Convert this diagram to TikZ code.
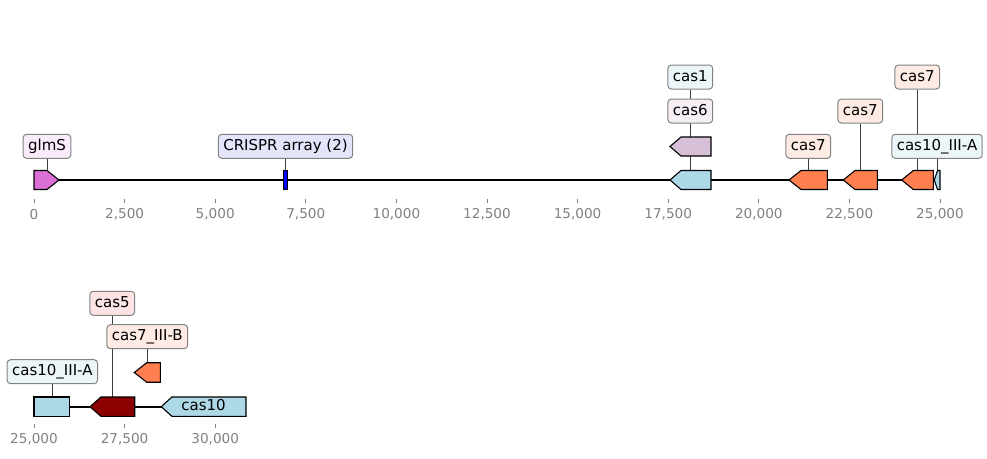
\documentclass[tikz,border=0pt]{standalone}
\usepackage{fontspec}
\setmainfont{DejaVu Sans}
\usetikzlibrary{backgrounds}
\definecolor{flblue}{RGB}{173,216,230}
\definecolor{fthistle}{RGB}{216,191,216}
\definecolor{fcoral}{RGB}{255,127,80}
\definecolor{fdarkred}{RGB}{139,0,0}
\definecolor{forchid}{RGB}{218,112,214}
\definecolor{fblue}{RGB}{0,0,255}
\definecolor{bblue}{RGB}{236,246,249}
\definecolor{bthistle}{RGB}{245,238,245}
\definecolor{bcoral}{RGB}{253,235,228}
\definecolor{bred}{RGB}{252,228,228}
\definecolor{borchid}{RGB}{250,235,250}
\definecolor{bcrispr}{RGB}{228,228,250}
\definecolor{tickgray}{RGB}{128,128,128}
\definecolor{boxedge}{RGB}{130,130,130}
\definecolor{leader}{RGB}{60,60,60}
\tikzset{
  lab/.style={draw=boxedge, line width=1pt, rounded corners=3.5pt, inner xsep=5pt, inner ysep=0pt,
    minimum height=24pt, font=\fontsize{15}{18}\selectfont, text height=11pt, text depth=3pt},
  feat/.style={draw=black, line width=1.1pt, line join=miter},
  leadline/.style={draw=leader, line width=0.8pt},
  baseline/.style={draw=black, line width=2pt},
  tickmark/.style={draw=tickgray, line width=0.8pt},
  ticklab/.style={text=tickgray, font=\fontsize{13.6}{16}\selectfont, inner sep=0pt},
}
\begin{document}
\begin{tikzpicture}[x=1pt,y=-1pt]
\useasboundingbox (0,0) rectangle (987,458);

% ---------- top row ----------
\coordinate (top0) at (34,180);
\coordinate (top1) at (940,180);
% labels
\node[lab, fill=borchid] (l-glmS) at (47,146.3) {glmS};
\node[lab, fill=bcrispr] (l-crispr) at (285.5,146.3) {CRISPR array (2)};
\node[lab, fill=bblue] (l-cas1) at (690.3,77) {cas1};
\node[lab, fill=bthistle] (l-cas6) at (690.3,111) {cas6};
\node[lab, fill=bcoral] (l-cas7a) at (808.3,146.3) {cas7};
\node[lab, fill=bcoral] (l-cas7b) at (860.3,111) {cas7};
\node[lab, fill=bcoral] (l-cas7c) at (917.3,77) {cas7};
\node[lab, fill=bblue] (l-cas10a) at (937,146.3) {cas10\_III-A};

\coordinate (f-glmS) at (47,170.5);
\coordinate (f-crispr) at (285.5,170.5);
\coordinate (f-cas1) at (690.3,170.5);
\coordinate (f-cas6) at (690.3,137);
\coordinate (f-cas7a) at (808.3,170.5);
\coordinate (f-cas7b) at (860.3,170.5);
\coordinate (f-cas7c) at (917.3,170.5);
\coordinate (f-cas10a) at (937.5,170.5);

% features
\draw[feat, fill=forchid] (34,170.5) -- (47,170.5) -- (59,180) -- (47,189.5) -- (34,189.5) -- cycle;
\draw[feat, fill=fblue] (283.3,170.5) rectangle (287.3,189.5);
\draw[feat, fill=flblue] (670,180) -- (681,170.5) -- (711,170.5) -- (711,189.5) -- (681,189.5) -- cycle;
\draw[feat, fill=fthistle] (670,146.5) -- (681,137) -- (711,137) -- (711,156) -- (681,156) -- cycle;
\draw[feat, fill=fcoral] (789,180) -- (801,170.5) -- (827.3,170.5) -- (827.3,189.5) -- (801,189.5) -- cycle;
\draw[feat, fill=fcoral] (843.3,180) -- (855,170.5) -- (877.3,170.5) -- (877.3,189.5) -- (855,189.5) -- cycle;
\draw[feat, fill=fcoral] (901.7,180) -- (913.3,170.5) -- (933.3,170.5) -- (933.3,189.5) -- (913.3,189.5) -- cycle;
\draw[feat, fill=flblue] (934.3,180) -- (937.5,170.5) -- (940,170.5) -- (940,189.5) -- (937.5,189.5) -- cycle;

% ticks
\foreach \i/\t in {0/0,1/{2,500},2/{5,000},3/{7,500},4/{10,000},5/{12,500},6/{15,000},7/{17,500},8/{20,000},9/{22,500},10/{25,000}}{
  \draw[tickmark] ({34+90.6*\i},199) -- ({34+90.6*\i},203);
  \node[ticklab] at ({34+90.6*\i},214.5) {\t};
}

% ---------- bottom row ----------
\coordinate (bot0) at (34,406.7);
\coordinate (bot1) at (246,406.7);
\node[lab, fill=bblue] (l-cas10b) at (52.3,371.7) {cas10\_III-A};
\node[lab, fill=bred] (l-cas5) at (112.3,303.3) {cas5};
\node[lab, fill=bcoral] (l-cas7B) at (147.3,336.7) {cas7\_III-B};

\coordinate (f-cas10b) at (52.3,397);
\coordinate (f-cas5) at (112.3,397);
\coordinate (f-cas7B) at (147.3,362.7);

\draw[feat, fill=flblue] (34,397) rectangle (69.7,416.4);
\draw[feat, fill=fdarkred] (90,406.7) -- (101,397) -- (134.7,397) -- (134.7,416.4) -- (101,416.4) -- cycle;
\draw[feat, fill=fcoral] (134.3,372.5) -- (146.7,362.7) -- (160.3,362.7) -- (160.3,382.2) -- (146.7,382.2) -- cycle;
\draw[feat, fill=flblue] (161.3,406.7) -- (172,397) -- (246,397) -- (246,416.4) -- (172,416.4) -- cycle;
\node[font=\fontsize{15}{18}\selectfont, inner sep=0pt, text height=11pt, text depth=3pt] (t-cas10) at (203.5,406.7) {cas10};

\foreach \i/\t in {0/{25,000},1/{27,500},2/{30,000}}{
  \draw[tickmark] ({34+90.6*\i},424) -- ({34+90.6*\i},428);
  \node[ticklab] at ({34+90.6*\i},439.5) {\t};
}

% ---------- background: baselines and leader lines ----------
\begin{pgfonlayer}{background}
\draw[baseline] (top0) -- (top1);
\draw[baseline] (bot0) -- (bot1);
\draw[leadline] (l-glmS) -- (f-glmS);
\draw[leadline] (l-crispr) -- (f-crispr);
\draw[leadline] (l-cas1) -- (f-cas1);
\draw[leadline] (l-cas6) -- (f-cas6);
\draw[leadline] (l-cas7a) -- (f-cas7a);
\draw[leadline] (l-cas7b) -- (f-cas7b);
\draw[leadline] (l-cas7c) -- (f-cas7c);
\draw[leadline] (l-cas10a.center -| f-cas10a) -- (f-cas10a);
\draw[leadline] (l-cas10b) -- (f-cas10b);
\draw[leadline] (l-cas5) -- (f-cas5);
\draw[leadline] (l-cas7B) -- (f-cas7B);
\end{pgfonlayer}
\end{tikzpicture}
\end{document}
